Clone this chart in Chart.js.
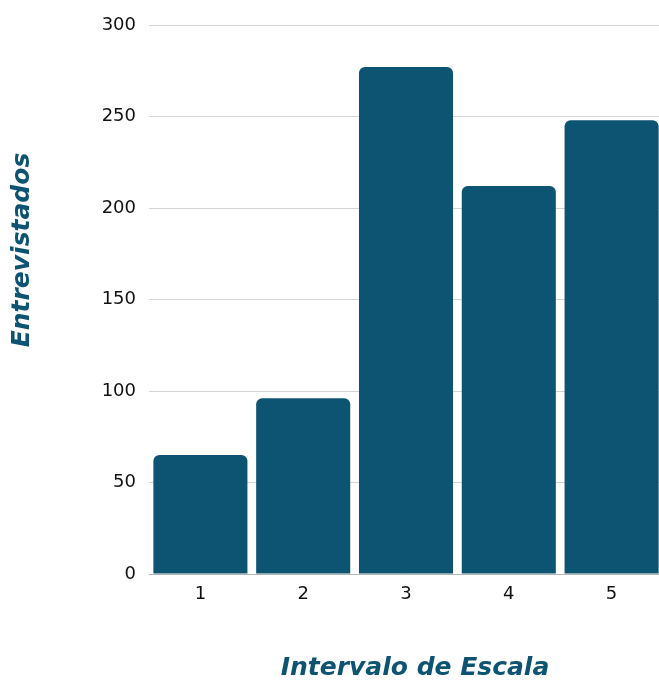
<!DOCTYPE html>
<html>
<head>
<meta charset="utf-8">
<script src="https://cdn.jsdelivr.net/npm/chart.js@4/dist/chart.umd.min.js"></script>
<style>
  html, body { margin: 0; padding: 0; background: #ffffff; overflow: hidden; }
  #wrap { width: 659px; height: 681px; overflow: hidden; }
</style>
</head>
<body>
<div id="wrap"><canvas id="chart" width="663" height="681"></canvas></div>
<script>
// Respuestas por intervalo de la escala
const categories = ['1', '2', '3', '4', '5'];
const entrevistados = [65, 96, 277, 212, 248];
const yTicks = [0, 50, 100, 150, 200, 250, 300];

const barColor = '#0d5372';
const titleColor = '#0d5372';
const tickFont = { family: '"DejaVu Sans", sans-serif', size: 18, weight: '500' };
const titleFont = 'italic 700 25px "DejaVu Sans", sans-serif';

// Axis titles placed beside the plot area
const axisTitles = {
  id: 'axisTitles',
  afterDraw(chart) {
    const { ctx, chartArea } = chart;
    ctx.save();
    ctx.fillStyle = titleColor;
    ctx.font = titleFont;
    ctx.textAlign = 'center';
    ctx.textBaseline = 'middle';
    ctx.fillText('Intervalo de Escala', 415, chartArea.bottom + 94);
    ctx.translate(22, 250);
    ctx.rotate(-Math.PI / 2);
    ctx.fillText('Entrevistados', 0, 0);
    ctx.restore();
  }
};

new Chart(document.getElementById('chart'), {
  type: 'bar',
  data: {
    labels: categories,
    datasets: [{
      data: entrevistados,
      backgroundColor: barColor,
      borderRadius: { topLeft: 6, topRight: 6, bottomLeft: 0, bottomRight: 0 },
      borderSkipped: 'bottom',
      categoryPercentage: 1.0,
      barPercentage: 0.915
    }]
  },
  options: {
    responsive: false,
    animation: false,
    devicePixelRatio: 1,
    layout: { padding: { top: 25, right: 0, bottom: 0, left: 0 } },
    plugins: { legend: { display: false }, tooltip: { enabled: false } },
    scales: {
      x: {
        grid: { display: false, drawTicks: false },
        border: { display: true, color: '#b5b5b5', width: 1 },
        ticks: { color: '#111111', font: tickFont, padding: 10 },
        afterFit(scale) { scale.height = 107; }
      },
      y: {
        min: 0,
        max: 300,
        afterBuildTicks(scale) { scale.ticks = yTicks.map(v => ({ value: v })); },
        grid: { color: '#d4d4d4', lineWidth: 1, drawTicks: false },
        border: { display: false },
        ticks: { color: '#111111', font: tickFont, padding: 13 },
        afterFit(scale) { scale.width = 149; }
      }
    }
  },
  plugins: [axisTitles]
});
</script>
</body>
</html>
